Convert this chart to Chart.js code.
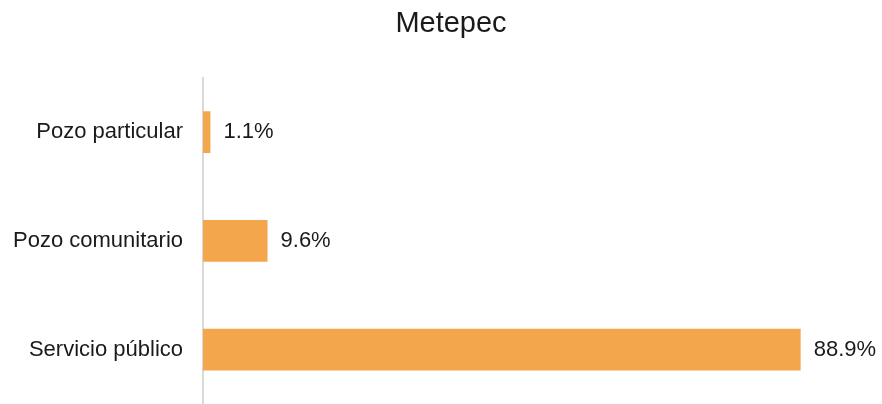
<!DOCTYPE html>
<html>
<head>
<meta charset="utf-8">
<script src="https://cdn.jsdelivr.net/npm/chart.js@4/dist/chart.umd.min.js"></script>
<style>
  html, body { margin: 0; padding: 0; background: #ffffff; }
  #wrap { width: 882px; height: 404px; }
</style>
</head>
<body>
<div id="wrap"><canvas id="c" width="882" height="404"></canvas></div>
<script>
const chartTitle = "Metepec";
const categories = ["Pozo particular", "Pozo comunitario", "Servicio público"];
const values = [1.1, 9.6, 88.9];
const valueLabels = ["1.1%", "9.6%", "88.9%"];

const barLabelPlugin = {
  id: 'barLabels',
  afterDatasetsDraw(chart) {
    const ctx = chart.ctx;
    const meta = chart.getDatasetMeta(0);
    ctx.save();
    ctx.font = '22px "Liberation Sans", Arial, sans-serif';
    ctx.fillStyle = '#1a1a1a';
    ctx.textAlign = 'left';
    ctx.textBaseline = 'middle';
    meta.data.forEach((bar, i) => {
      ctx.fillText(valueLabels[i], bar.x + 13, bar.y);
    });
    ctx.restore();
  }
};

new Chart(document.getElementById('c'), {
  type: 'bar',
  data: {
    labels: categories,
    datasets: [{
      data: values,
      backgroundColor: 'rgb(243,166,75)',
      borderWidth: 0,
      categoryPercentage: 1,
      barPercentage: 0.384
    }]
  },
  options: {
    indexAxis: 'y',
    responsive: false,
    animation: false,
    devicePixelRatio: 1,
    layout: { padding: { left: 0, right: -20, top: 0, bottom: -2 } },
    plugins: {
      legend: { display: false },
      tooltip: { enabled: false },
      title: {
        display: true,
        text: chartTitle,
        color: '#1a1a1a',
        font: { family: '"Liberation Sans", Arial, sans-serif', size: 29, weight: 'normal' },
        padding: { top: 7, bottom: 36 }
      }
    },
    scales: {
      x: {
        display: false,
        min: 0,
        max: 101
      },
      y: {
        afterFit(scale) {
          scale.width = 203;
          scale.paddingTop = 0;
          scale.paddingBottom = 0;
        },
        grid: { display: false, drawTicks: false },
        border: { display: true, color: '#d9d9d9', width: 2 },
        ticks: {
          color: '#1a1a1a',
          padding: 20,
          font: { family: '"Liberation Sans", Arial, sans-serif', size: 22 }
        }
      }
    }
  },
  plugins: [barLabelPlugin]
});
</script>
</body>
</html>
